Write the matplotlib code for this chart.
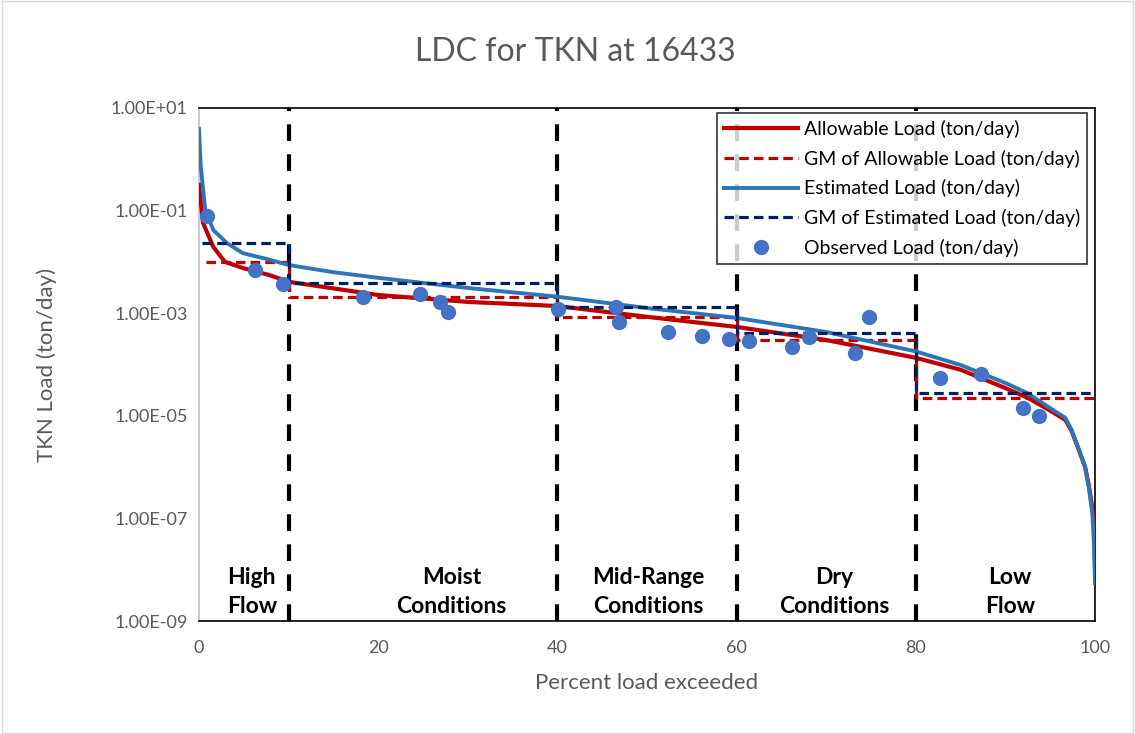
import numpy as np
import matplotlib
matplotlib.use('Agg')
import matplotlib.pyplot as plt
from matplotlib.ticker import FixedLocator, FuncFormatter

plt.rcParams['font.family'] = ['Lato', 'DejaVu Sans']

# ---- data ----
est_x = [0, 0.2, 0.7, 1.6, 3.1, 4.9, 7.9, 10, 15, 20, 30, 40, 50, 60, 70,
         80, 85, 90, 92.5, 95, 96.7, 97.4, 98.1, 98.9, 99.3, 99.7, 99.9, 100]
est_load = [3.89, 7.08e-1, 1.02e-1, 4.17e-2, 2.34e-2, 1.48e-2, 1.1e-2, 8.7e-3,
            6.3e-3, 4.9e-3, 3.1e-3, 2.1e-3, 1.26e-3, 8.1e-4, 4.3e-4,
            1.8e-4, 9.8e-5, 4.37e-5, 2.75e-5, 1.41e-5, 9.1e-6, 5.25e-6,
            2.45e-6, 1.0e-6, 4.07e-7, 1.26e-7, 2.75e-8, 5.5e-9]

allow_x = [0, 0.45, 1.6, 2.9, 4.9, 7.9, 10, 20, 30, 40, 50, 60, 70, 80,
           85, 90, 92.5, 95, 96.7, 97.4, 98.1, 98.9, 99.3, 99.7, 99.9, 100]
allow_load = [3.16e-1, 5.75e-2, 1.95e-2, 1.0e-2, 7.6e-3, 5.5e-3, 4.1e-3,
              2.26e-3, 1.66e-3, 1.38e-3, 8.5e-4, 5.4e-4, 3.0e-4, 1.35e-4,
              7.9e-5, 3.47e-5, 2.24e-5, 1.26e-5, 8.3e-6, 5.0e-6, 2.4e-6,
              1.0e-6, 4.5e-7, 1.6e-7, 7.9e-8, 1.26e-8]

zone_edges = [0, 10, 40, 60, 80, 100]
gm_est = [2.34e-2, 3.9e-3, 1.3e-3, 4.1e-4, 2.8e-5]
gm_allow = [1.0e-2, 2.07e-3, 8.5e-4, 3.0e-4, 2.2e-5]

obs_x = [0.9, 6.25, 9.4, 18.3, 24.7, 26.9, 27.8, 40.1, 46.5, 46.9, 52.3,
         56.1, 59.2, 61.4, 66.2, 68.1, 73.2, 74.8, 82.7, 87.3, 92.0, 93.75]
obs_load = [7.8e-2, 6.9e-3, 3.7e-3, 2.07e-3, 2.37e-3, 1.66e-3, 1.05e-3,
            1.2e-3, 1.3e-3, 6.7e-4, 4.3e-4, 3.6e-4, 3.2e-4, 2.9e-4,
            2.2e-4, 3.5e-4, 1.66e-4, 8.5e-4, 5.5e-5, 6.5e-5, 1.4e-5, 1.0e-5]

zone_labels = ['High\nFlow', 'Moist\nConditions', 'Mid-Range\nConditions',
               'Dry\nConditions', 'Low\nFlow']
zone_label_x = [5.9, 28.2, 50.1, 70.9, 90.5]

y_ticks = [1e1, 1e-1, 1e-3, 1e-5, 1e-7, 1e-9]
x_ticks = [0, 20, 40, 60, 80, 100]


def step_series(edges, levels, start):
    xs, ys = [start], [levels[0]]
    for i, lev in enumerate(levels):
        if i > 0:
            xs.append(edges[i])
            ys.append(lev)
        xs.append(edges[i + 1])
        ys.append(lev)
    return xs, ys


fig = plt.figure(figsize=(11.35, 7.34), dpi=100)
ax = fig.add_axes([199 / 1135, 1 - 621 / 734, 896 / 1135, 513 / 734])

gray = '#595959'

for xv in zone_edges[1:-1]:
    ax.axvline(xv, color='black', lw=3, ls=(0, (4, 3.2)), zorder=2)

ax.plot(allow_x, allow_load, color='#C00000', lw=3, label='Allowable Load (ton/day)', zorder=3)
gx, gy = step_series(zone_edges, gm_allow, 0.8)
ax.plot(gx, gy, color='#C00000', lw=2.3, ls=(0, (3, 1.6)),
        label='GM of Allowable Load (ton/day)', zorder=3)
ax.plot(est_x, est_load, color='#2E75B6', lw=2.8, label='Estimated Load (ton/day)', zorder=4)
gx, gy = step_series(zone_edges, gm_est, 0.3)
ax.plot(gx, gy, color='#002060', lw=2.3, ls=(0, (3, 1.6)),
        label='GM of Estimated Load (ton/day)', zorder=4)
ax.plot(obs_x, obs_load, 'o', color='#4472C4', ms=11, mec='none',
        label='Observed Load (ton/day)', zorder=5)

for lab, xv in zip(zone_labels, zone_label_x):
    ax.text(xv, 0.057, lab, transform=ax.get_xaxis_transform(), ha='center',
            va='center', fontsize=16.5, fontweight='bold', linespacing=1.45, zorder=6)

ax.set_yscale('log')
ax.set_xlim(0, 100)
ax.set_ylim(1e-9, 1e1)
ax.xaxis.set_major_locator(FixedLocator(x_ticks))
ax.yaxis.set_major_locator(FixedLocator(y_ticks))
ax.yaxis.set_minor_locator(FixedLocator([]))
ax.yaxis.set_major_formatter(FuncFormatter(lambda v, p: '%.2E' % v))
ax.tick_params(axis='both', length=0, labelsize=13, colors=gray)
ax.tick_params(axis='x', pad=14)
ax.tick_params(axis='y', pad=8)

for side in ['top', 'right', 'bottom']:
    ax.spines[side].set_color('black')
    ax.spines[side].set_linewidth(1.2)
ax.spines['left'].set_color('#BFBFBF')
ax.spines['left'].set_linewidth(1.2)

ax.set_xlabel('Percent load exceeded', fontsize=16, color=gray, labelpad=12)
ax.set_ylabel('TKN Load (ton/day)', fontsize=16, color=gray, labelpad=0)
ax.yaxis.set_label_coords(-(199 - 57) / 896, 0.5)
fig.text(575 / 1135, 1 - 52 / 734, 'LDC for TKN at 16433', ha='center', va='center',
         fontsize=23, color=gray)

leg = ax.legend(loc='upper right', bbox_to_anchor=(1.0 - 8 / 896, 1.0 - 5 / 513),
                fontsize=14, frameon=True, fancybox=False, edgecolor='black',
                handlelength=3.8, handletextpad=0.3, borderpad=0.35,
                labelspacing=0.6, borderaxespad=0.0)
leg.get_frame().set_linewidth(1.2)

fig.patches.append(plt.Rectangle((0.002, 0.002), 0.996, 0.996, transform=fig.transFigure,
                                 fill=False, edgecolor='#D9D9D9', lw=1))

fig.savefig('out.png', dpi=100)
